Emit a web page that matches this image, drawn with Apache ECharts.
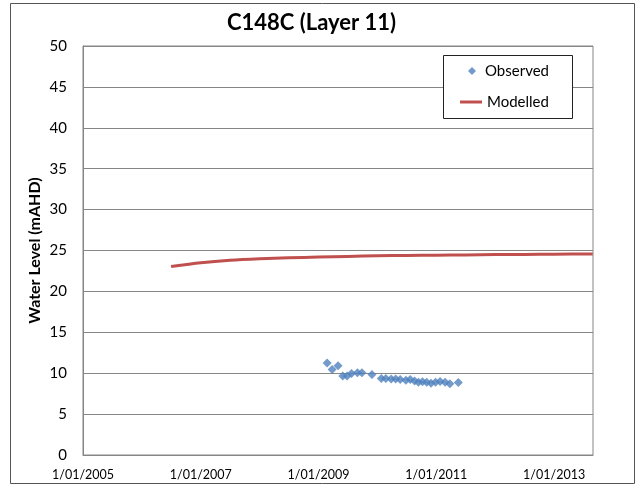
<!DOCTYPE html>
<html>
<head>
<meta charset="utf-8">
<script src="https://cdn.jsdelivr.net/npm/echarts@6/dist/echarts.min.js"></script>
<style>html,body{margin:0;padding:0;background:#fff;}#c{width:636px;height:486px;}</style>
</head>
<body>
<div id="c"></div>
<script>
var titleText = 'C148C (Layer 11)';
var yAxisTitle = 'Water Level (mAHD)';
var xTickYears = [2005, 2007, 2009, 2011, 2013];
var yTicks = [0, 5, 10, 15, 20, 25, 30, 35, 40, 45, 50];

var observedDates = ['2009-02-23','2009-03-26','2009-05-02','2009-05-31','2009-06-27','2009-07-24','2009-08-30','2009-09-27','2009-11-28','2010-01-25','2010-02-22','2010-03-27','2010-04-24','2010-05-22','2010-06-26','2010-07-23','2010-08-19','2010-09-12','2010-10-07','2010-11-02','2010-11-29','2010-12-27','2011-01-24','2011-02-24','2011-03-26','2011-05-17'];
var observedLevels = [11.25,10.45,10.9,9.67,9.67,9.96,10.04,10.04,9.84,9.35,9.35,9.3,9.3,9.23,9.15,9.23,9.06,8.9,8.95,8.9,8.78,8.9,9.0,8.9,8.7,8.87];

var modelledDates = ['2006-07-01','2007-01-01','2007-07-01','2008-01-01','2008-07-01','2009-01-01','2009-07-01','2010-01-01','2010-07-01','2011-01-01','2011-07-01','2012-01-01','2012-07-01','2013-01-01','2013-08-28'];
var modelledLevels = [23.05,23.5,23.8,23.98,24.1,24.2,24.28,24.35,24.4,24.43,24.46,24.5,24.52,24.55,24.57];

function toYear(s) {
  var p = s.split('-').map(Number);
  var y = p[0];
  var start = Date.UTC(y, 0, 1), end = Date.UTC(y + 1, 0, 1);
  return y + (Date.UTC(y, p[1] - 1, p[2]) - start) / (end - start);
}
var observed = observedDates.map(function (d, i) { return [toYear(d), observedLevels[i]]; });
var modelled = modelledDates.map(function (d, i) { return [toYear(d), modelledLevels[i]]; });

var FONT = 'Lato';
var chart = echarts.init(document.getElementById('c'), null, {renderer: 'canvas'});
chart.setOption({
  animation: false,
  backgroundColor: '#ffffff',
  title: {
    text: titleText, left: 227, top: 12, padding: 0,
    textStyle: {fontFamily: FONT, fontWeight: 'bold', fontSize: 22, color: '#000'}
  },
  grid: {left: 83, right: 43, top: 46, bottom: 31, show: true, borderColor: '#868686', borderWidth: 1, backgroundColor: 'transparent'},
  xAxis: {
    type: 'value', min: xTickYears[0], max: 2013.66, interval: 2,
    axisLine: {show: true, onZero: false, lineStyle: {color: '#868686'}},
    axisTick: {show: false},
    splitLine: {show: false},
    axisLabel: {
      fontFamily: FONT, fontSize: 12.5, color: '#000', margin: 13, showMaxLabel: false,
      formatter: function (v) { return xTickYears.indexOf(Math.round(v)) >= 0 ? '1/01/' + Math.round(v) : ''; }
    }
  },
  yAxis: {
    type: 'value', min: yTicks[0], max: yTicks[yTicks.length - 1], interval: 5,
    name: yAxisTitle, nameLocation: 'middle', nameGap: 40, nameMoveOverlap: false,
    nameTextStyle: {fontFamily: FONT, fontWeight: 'bold', fontSize: 16, color: '#000'},
    axisLine: {show: true, lineStyle: {color: '#868686'}},
    axisTick: {show: false},
    splitLine: {show: true, lineStyle: {color: '#868686', width: 1}},
    axisLabel: {fontFamily: FONT, fontSize: 15, color: '#000', margin: 16}
  },
  legend: [
    {
      orient: 'vertical', left: 468, top: 62, z: 20, padding: 0,
      itemWidth: 8, itemHeight: 8,
      textStyle: {fontFamily: FONT, fontSize: 15, color: '#000', lineHeight: 18, padding: [0, 0, 0, 4]},
      data: [{name: 'Observed', icon: 'diamond'}]
    },
    {
      orient: 'vertical', left: 460, top: 93, z: 20, padding: 0,
      itemWidth: 22, itemHeight: 3,
      textStyle: {fontFamily: FONT, fontSize: 15, color: '#000', lineHeight: 18},
      data: [{name: 'Modelled', icon: 'rect'}]
    }
  ],
  graphic: [
    {type: 'rect', z: 1, silent: true, shape: {x: 10.5, y: 3.5, width: 624, height: 480}, style: {fill: null, stroke: '#555', lineWidth: 1}},
    {type: 'rect', z: 10, silent: true, shape: {x: 443.5, y: 55.5, width: 129, height: 63}, style: {fill: '#fff', stroke: '#222', lineWidth: 1}}
  ],
  series: [
    {name: 'Observed', type: 'scatter', data: observed, symbol: 'diamond', symbolSize: 9, itemStyle: {color: '#4f81bd'}, z: 3},
    {name: 'Modelled', type: 'line', data: modelled, smooth: 0.3, showSymbol: false, symbol: 'none', lineStyle: {color: '#c0504d', width: 3}, itemStyle: {color: '#c0504d'}, z: 2}
  ]
});
</script>
</body>
</html>
